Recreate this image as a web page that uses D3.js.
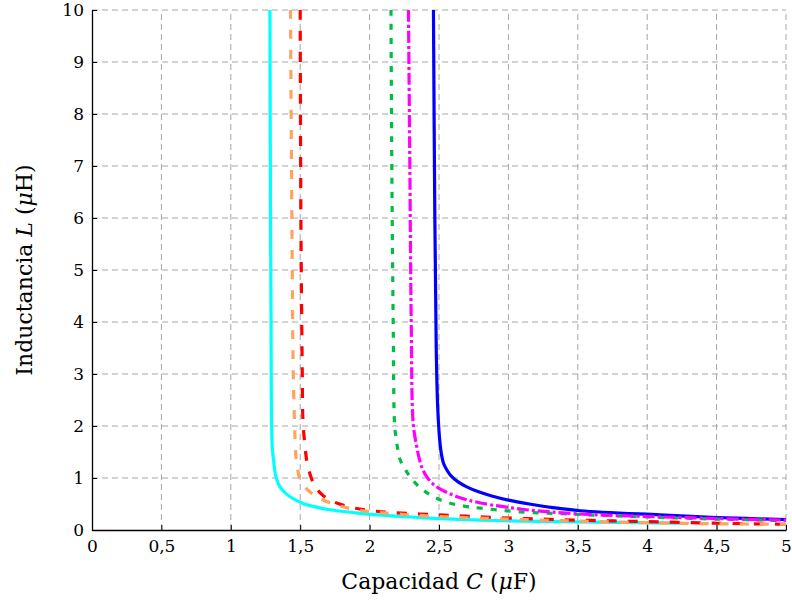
<!DOCTYPE html>
<html>
<head>
<meta charset="utf-8">
<script src="https://cdn.jsdelivr.net/npm/d3@7"></script>
<style>
  body { margin: 0; background: #fff; }
  svg { display: block; font-family: "DejaVu Serif", "Liberation Serif", serif; }
</style>
</head>
<body>
<div id="chart"></div>
<script>
// values: C in µF, L in µH
const cyanC    = [1.282, 1.286, 1.290, 1.294, 1.300, 1.310, 1.318, 1.330, 1.354, 1.390, 1.427, 1.520, 1.600, 1.740, 1.900, 2.060, 2.300, 2.500, 2.800, 3.100, 3.500, 3.900, 4.260];
const cyanL    = [10, 6, 4, 2.0, 1.55, 1.3, 1.12, 0.98, 0.83, 0.72, 0.64, 0.51, 0.45, 0.38, 0.33, 0.29, 0.25, 0.22, 0.19, 0.17, 0.155, 0.14, 0.13];
const orangeC  = [1.430, 1.440, 1.450, 1.460, 1.467, 1.480, 1.500, 1.550, 1.620, 1.760, 1.930, 2.100, 2.500, 3.000, 3.500, 4.000, 4.500, 5.000];
const orangeL  = [10, 6, 3, 2.0, 1.48, 1.2, 0.96, 0.78, 0.64, 0.48, 0.38, 0.33, 0.26, 0.21, 0.17, 0.14, 0.12, 0.11];
const redC     = [1.500, 1.505, 1.515, 1.520, 1.535, 1.550, 1.580, 1.610, 1.650, 1.710, 1.860, 2.050, 2.500, 3.000, 3.500, 4.000, 4.500, 5.000];
const redL     = [10, 6, 3, 2.1, 1.6, 1.29, 1.0, 0.83, 0.7, 0.58, 0.44, 0.36, 0.29, 0.23, 0.19, 0.16, 0.13, 0.11];
const greenC   = [2.154, 2.160, 2.170, 2.180, 2.190, 2.200, 2.220, 2.260, 2.310, 2.380, 2.460, 2.560, 2.680, 2.800, 3.080, 3.500, 4.000, 4.500, 5.000];
const greenL   = [10, 7, 4, 2.02, 1.78, 1.6, 1.35, 1.15, 0.96, 0.78, 0.64, 0.53, 0.46, 0.42, 0.35, 0.30, 0.25, 0.21, 0.18];
const magentaC = [2.280, 2.290, 2.300, 2.315, 2.340, 2.360, 2.380, 2.410, 2.450, 2.500, 2.630, 2.800, 3.130, 3.500, 4.000, 4.500, 5.000];
const magentaL = [10, 7, 4, 2.02, 1.6, 1.35, 1.18, 1.03, 0.9, 0.8, 0.64, 0.52, 0.39, 0.31, 0.26, 0.22, 0.19];
const blueC    = [2.460, 2.470, 2.480, 2.490, 2.500, 2.510, 2.520, 2.533, 2.560, 2.590, 2.640, 2.700, 2.780, 2.880, 3.000, 3.150, 3.320, 3.520, 4.090, 4.500, 5.000];
const blueL    = [10, 6, 3.5, 2.4, 1.9, 1.6, 1.42, 1.28, 1.14, 1.03, 0.92, 0.83, 0.74, 0.655, 0.575, 0.5, 0.43, 0.37, 0.29, 0.24, 0.20];

const xTicks = [0, 0.5, 1, 1.5, 2, 2.5, 3, 3.5, 4, 4.5, 5];
const yTicks = [0, 1, 2, 3, 4, 5, 6, 7, 8, 9, 10];

const series = [
  {C: blueC,    L: blueL,    color: "#0000ff", dash: null},
  {C: cyanC,    L: cyanL,    color: "#00ffff", dash: null},
  {C: redC,     L: redL,     color: "#ff0000", dash: "10,11"},
  {C: orangeC,  L: orangeL,  color: "#ffa45c", dash: "9,11"},
  {C: greenC,   L: greenL,   color: "#00bf40", dash: "6,8"},
  {C: magentaC, L: magentaL, color: "#ff00ff", dash: "12,3,3,3"}
];

const width = 792, height = 601;
const margin = {top: 10, right: 6, bottom: 71, left: 92};

const svg = d3.select("#chart").append("svg")
    .attr("width", width)
    .attr("height", height);

const x = d3.scaleLinear().domain([0, 5]).range([margin.left, width - margin.right]);
const y = d3.scaleLinear().domain([0, 10]).range([height - margin.bottom, margin.top]);

svg.append("defs").append("clipPath").attr("id", "plot-clip")
  .append("rect")
    .attr("x", x(0)).attr("y", y(10))
    .attr("width", x(5) - x(0)).attr("height", y(0) - y(10));

// dashed grid
const grid = svg.append("g").attr("stroke", "#a6a6a6").attr("stroke-width", 1).attr("stroke-dasharray", "6,4");
grid.selectAll(".gx").data(xTicks.slice(1)).join("line")
    .attr("x1", d => x(d)).attr("x2", d => x(d))
    .attr("y1", y(0)).attr("y2", y(10));
grid.selectAll(".gy").data(yTicks.slice(1)).join("line")
    .attr("y1", d => y(d)).attr("y2", d => y(d))
    .attr("x1", x(0)).attr("x2", x(5));

// curves
const line = d3.line()
    .x(d => x(d[0]))
    .y(d => y(d[1]))
    .curve(d3.curveCatmullRom.alpha(0.5));

svg.append("g").attr("clip-path", "url(#plot-clip)")
  .selectAll("path")
  .data(series)
  .join("path")
    .attr("fill", "none")
    .attr("stroke", d => d.color)
    .attr("stroke-width", 3.2)
    .attr("stroke-dasharray", d => d.dash)
    .attr("d", d => line(d.C.map((c, i) => [c, d.L[i]])));

// axes: only left and bottom lines, inward ticks
const xAxis = d3.axisBottom(x).tickValues(xTicks).tickSizeInner(-5).tickSizeOuter(0)
    .tickPadding(10).tickFormat(d => String(d).replace(".", ","));
const yAxis = d3.axisLeft(y).tickValues(yTicks).tickSizeInner(-5).tickSizeOuter(0)
    .tickPadding(8);

const gx = svg.append("g").attr("transform", `translate(0,${y(0)})`).call(xAxis);
const gy = svg.append("g").attr("transform", `translate(${x(0)},0)`).call(yAxis);

[gx, gy].forEach(g => {
  g.select(".domain").attr("stroke", "#000").attr("stroke-width", 1.3);
  g.selectAll(".tick line").attr("stroke", "#000").attr("stroke-width", 1);
  g.selectAll(".tick text").attr("fill", "#000").style("font-size", "17px")
    .style("font-family", "'DejaVu Serif', 'Liberation Serif', serif");
});
gx.selectAll(".tick text").attr("dy", "0.72em");
gy.selectAll(".tick text").attr("dy", "0.35em");

// axis titles
const xt = svg.append("text")
    .attr("x", (x(0) + x(5)) / 2)
    .attr("y", 589)
    .attr("text-anchor", "middle")
    .style("font-size", "22px");
xt.append("tspan").text("Capacidad ");
xt.append("tspan").style("font-style", "italic").text("C");
xt.append("tspan").text(" (");
xt.append("tspan").style("font-style", "italic").text("μ");
xt.append("tspan").text("F)");

const yt = svg.append("text")
    .attr("transform", `translate(32,${(y(0) + y(10)) / 2}) rotate(-90)`)
    .attr("text-anchor", "middle")
    .style("font-size", "22px");
yt.append("tspan").text("Inductancia ");
yt.append("tspan").style("font-style", "italic").text("L");
yt.append("tspan").text(" (");
yt.append("tspan").style("font-style", "italic").text("μ");
yt.append("tspan").text("H)");
</script>
</body>
</html>
